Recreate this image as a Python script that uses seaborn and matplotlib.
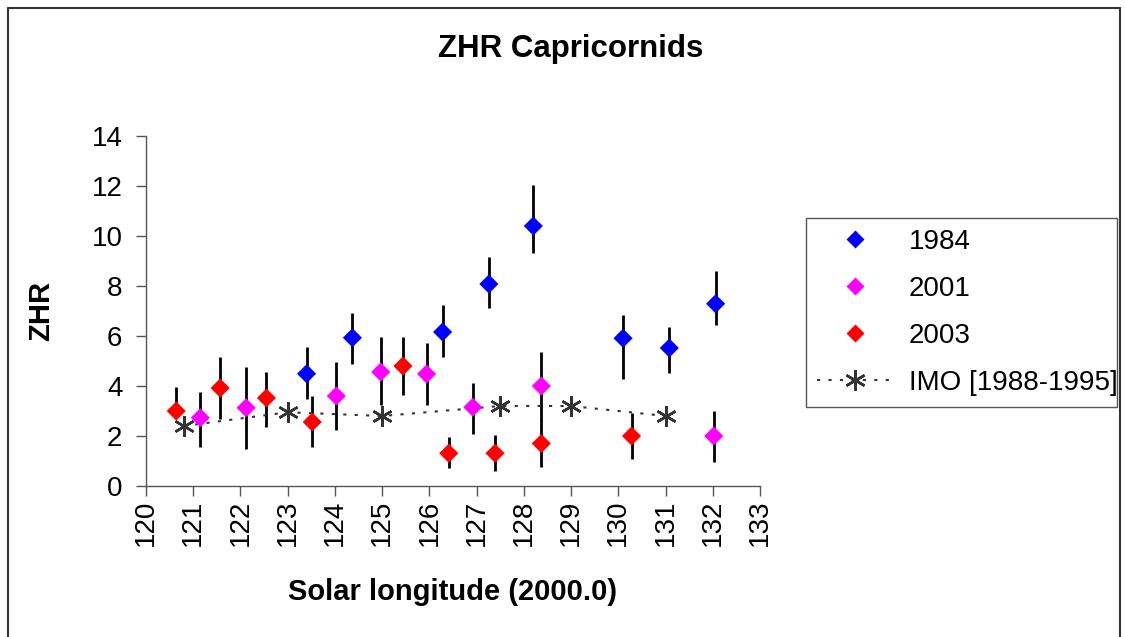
import numpy as np
import pandas as pd
import seaborn as sns
import matplotlib
matplotlib.use("Agg")
import matplotlib.pyplot as plt
from matplotlib.lines import Line2D

# --- data ---
# 1984
x_1984 = [123.40, 124.37, 126.28, 127.26, 128.20, 130.10, 131.08, 132.06]
zhr_1984 = [4.49, 5.93, 6.16, 8.08, 10.40, 5.91, 5.52, 7.29]
hi_1984 = [5.55, 6.92, 7.24, 9.15, 12.04, 6.83, 6.35, 8.59]
lo_1984 = [3.50, 4.87, 5.17, 7.11, 9.33, 4.29, 4.53, 6.45]

# 2001
x_2001 = [121.15, 122.12, 124.03, 124.97, 125.94, 126.92, 128.37, 132.02]
zhr_2001 = [2.73, 3.13, 3.60, 4.56, 4.48, 3.15, 4.00, 2.00]
hi_2001 = [3.77, 4.75, 4.97, 5.95, 5.71, 4.11, 5.38, 2.99]
lo_2001 = [1.57, 1.50, 2.24, 3.24, 3.24, 2.07, 2.60, 0.95]

# 2003
x_2003 = [120.64, 121.57, 122.55, 123.52, 125.44, 126.41, 127.39, 128.37, 130.28]
zhr_2003 = [3.00, 3.92, 3.52, 2.56, 4.80, 1.31, 1.31, 1.70, 2.00]
hi_2003 = [3.95, 5.15, 4.57, 3.61, 5.95, 1.95, 2.03, 2.70, 2.91]
lo_2003 = [2.90, 2.67, 2.37, 1.57, 3.64, 0.71, 0.61, 0.77, 1.10]

# IMO average profile
x_imo = [120.8, 123.0, 125.0, 127.5, 129.0, 131.0]
zhr_imo = [2.40, 2.95, 2.80, 3.20, 3.20, 2.80]

years = ["1984", "2001", "2003"]
colors = {"1984": "#0000FF", "2001": "#FF00FF", "2003": "#FF0000"}

frames = []
for yr, xs, ys, his, los in [("1984", x_1984, zhr_1984, hi_1984, lo_1984),
                             ("2001", x_2001, zhr_2001, hi_2001, lo_2001),
                             ("2003", x_2003, zhr_2003, hi_2003, lo_2003)]:
    frames.append(pd.DataFrame({"sol": xs, "zhr": ys, "hi": his, "lo": los, "year": yr}))
df = pd.concat(frames, ignore_index=True)
imo = pd.DataFrame({"sol": x_imo, "zhr": zhr_imo})

sns.set_theme(style="white")
plt.rcParams["font.family"] = ["Liberation Sans", "DejaVu Sans"]
plt.rcParams["text.color"] = "black"
plt.rcParams["axes.labelcolor"] = "black"

fig = plt.figure(figsize=(11.25, 6.37), dpi=100)
ax = fig.add_axes([146 / 1125, 1 - 486 / 637, 614 / 1125, 350 / 637])

# error bars (behind the markers)
ax.vlines(df["sol"], df["lo"], df["hi"], colors="black", linewidth=2.0, zorder=2)

# IMO dotted profile
imo_style = dict(color="#333333", linewidth=1.5, linestyle=(0, (1.5, 4)),
                 marker=(6, 2, 0), markersize=15, markeredgewidth=1.8,
                 markeredgecolor="#333333")
sns.lineplot(data=imo, x="sol", y="zhr", ax=ax, dashes=False, zorder=3,
             legend=False, **imo_style)

sns.scatterplot(data=df, x="sol", y="zhr", hue="year", hue_order=years,
                palette=colors, marker="D", s=95, edgecolor="none", ax=ax,
                zorder=4, legend=False)

ax.set_xlim(120, 133)
ax.set_ylim(0, 14)
ax.set_xticks(np.arange(120, 134, 1))
ax.set_yticks(np.arange(0, 15, 2))
ax.tick_params(axis="both", direction="out", length=7, width=1, color="#555555",
               labelsize=20, labelcolor="black")
ax.tick_params(axis="y", pad=10)
ax.tick_params(axis="x", pad=3, labelrotation=90)
ax.tick_params(bottom=True, left=True)
sns.despine(ax=ax)
for side in ["left", "bottom"]:
    ax.spines[side].set_color("#555555")
    ax.spines[side].set_linewidth(1)

ax.set_xlabel("Solar longitude (2000.0)", fontsize=21, fontweight="bold", color="black")
ax.set_ylabel("ZHR", fontsize=21, fontweight="bold", color="black")
ax.xaxis.set_label_coords(0.5, -0.262)
ax.yaxis.set_label_coords(-0.148, 0.5)

fig.text(571 / 1125, 1 - 49 / 637, "ZHR Capricornids", fontsize=22.5,
         fontweight="bold", ha="center", va="center", color="black")

# legend
handles = [Line2D([], [], linestyle="none", marker="D", markersize=9.5,
                  markerfacecolor=colors[y], markeredgecolor="none") for y in years]
handles.append(Line2D([], [], **imo_style))
labels = years + ["IMO [1988-1995]"]
leg = fig.legend(handles, labels, loc="upper left",
                 bbox_to_anchor=(806 / 1125, 1 - 218 / 637 - 0.01, 311 / 1125, 0.01),
                 mode="expand", fontsize=20, frameon=True, fancybox=False,
                 framealpha=1, edgecolor="#555555", borderpad=0.4,
                 labelspacing=0.75, handlelength=2.7, handletextpad=0.6,
                 borderaxespad=0)
leg.get_frame().set_linewidth(1)
for t in leg.get_texts():
    t.set_color("black")

# outer chart border (bottom edge falls outside the picture)
bx0, bx1, by1 = 8 / 1125, 1120 / 1125, 1 - 8 / 637
for xs, ys in [([bx0, bx0], [-0.1, by1]), ([bx0, bx1], [by1, by1]), ([bx1, bx1], [by1, -0.1])]:
    fig.add_artist(Line2D(xs, ys, transform=fig.transFigure, color="#333333", linewidth=1.5))

fig.savefig("out.png", dpi=100)
